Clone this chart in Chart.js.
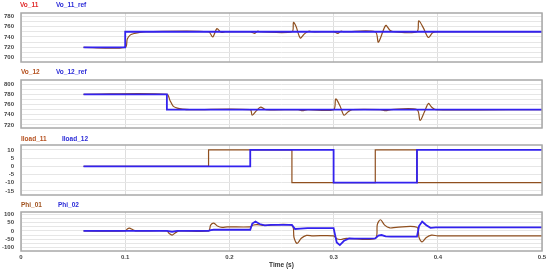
<!DOCTYPE html>
<html>
<head>
<meta charset="utf-8">
<script src="https://cdn.jsdelivr.net/npm/chart.js@4.4.0/dist/chart.umd.min.js"></script>
<style>
  html, body { margin: 0; padding: 0; background: #fff; }
  #wrap { position: relative; width: 550px; height: 271px; overflow: hidden; }
  canvas { position: absolute; left: 0; }
</style>
</head>
<body>
<div id="wrap">
  <canvas id="p1" width="550" height="66" style="top:0"></canvas>
  <canvas id="p2" width="550" height="66" style="top:66px"></canvas>
  <canvas id="p3" width="550" height="67" style="top:132px"></canvas>
  <canvas id="p4" width="550" height="72" style="top:199px"></canvas>
</div>
<script>
// --- data (time in s) ---
const T_VO11 = [0.06, 0.1, 0.102, 0.105, 0.109, 0.114, 0.12, 0.18, 0.184, 0.188, 0.192, 0.196, 0.22, 0.224, 0.227, 0.23, 0.26, 0.2615, 0.264, 0.268, 0.272, 0.276, 0.28, 0.30, 0.304, 0.307, 0.31, 0.34, 0.343, 0.35, 0.354, 0.358, 0.38, 0.3817, 0.386, 0.391, 0.395, 0.4, 0.5];
const VO11   = [720, 720, 736, 744, 747, 749, 750, 750, 740, 756, 749, 750, 750, 747, 751, 750, 750, 768, 760, 738, 746, 751, 750, 750, 747, 751, 750, 750, 730, 762, 753, 750, 750, 771, 758, 739, 748, 750, 750];
const T_VO11_REF = [0.06, 0.1, 0.1, 0.5];
const VO11_REF   = [720, 720, 750, 750];

const T_VO12 = [0.06, 0.14, 0.143, 0.146, 0.15, 0.155, 0.162, 0.22, 0.2218, 0.226, 0.23, 0.235, 0.266, 0.27, 0.275, 0.30, 0.302, 0.306, 0.31, 0.314, 0.318, 0.345, 0.35, 0.355, 0.38, 0.383, 0.387, 0.391, 0.394, 0.398, 0.5];
const VO12   = [780, 780, 768, 757, 753, 751, 750, 750, 739, 748, 755, 750, 750, 748, 750, 750, 771, 758, 739, 746, 750, 750, 748, 750, 750, 729, 745, 762, 755, 750, 750];
const T_VO12_REF = [0.06, 0.14, 0.14, 0.5];
const VO12_REF   = [780, 780, 750, 750];

const T_ILOAD11 = [0.06, 0.18, 0.18, 0.26, 0.26, 0.34, 0.34, 0.38, 0.38, 0.5];
const ILOAD11   = [0, 0, 10, 10, -10, -10, 10, 10, -10, -10];
const T_ILOAD12 = [0.06, 0.22, 0.22, 0.30, 0.30, 0.38, 0.38, 0.5];
const ILOAD12   = [0, 0, 10, 10, -10, -10, 10, 10];

const T_PHI01 = [0.06, 0.1, 0.102, 0.104, 0.107, 0.11, 0.14, 0.142, 0.145, 0.148, 0.152, 0.18, 0.182, 0.185, 0.189, 0.193, 0.198, 0.22, 0.223, 0.227, 0.232, 0.26, 0.262, 0.265, 0.269, 0.274, 0.28, 0.30, 0.303, 0.307, 0.312, 0.34, 0.342, 0.345, 0.349, 0.354, 0.36, 0.38, 0.382, 0.385, 0.389, 0.394, 0.4, 0.5];
const PHI01   = [0, 0, 12, 17, 8, 0, 0, -14, -25, -12, 0, 0, 35, 47, 28, 22, 25, 25, 36, 38, 34, 34, -40, -76, -45, -27, -30, -30, -48, -52, -45, -45, 40, 68, 35, 18, 22, 22, -40, -66, -40, -26, -30, -30];
const T_PHI02 = [0.06, 0.14, 0.145, 0.15, 0.18, 0.182, 0.185, 0.22, 0.222, 0.225, 0.229, 0.234, 0.24, 0.26, 0.263, 0.268, 0.275, 0.30, 0.303, 0.306, 0.31, 0.315, 0.32, 0.34, 0.343, 0.346, 0.35, 0.355, 0.38, 0.382, 0.385, 0.389, 0.393, 0.398, 0.5];
const PHI02   = [0, 0, -5, 0, 0, 5, 7, 7, 45, 57, 42, 34, 37, 37, 12, 14, 17, 17, -70, -86, -60, -45, -47, -45, -28, -25, -33, -35, -35, 30, 57, 35, 19, 22, 22];

// y tick values (labelled ones listed separately)
const Y1_TICKS = [700, 710, 720, 730, 740, 750, 760, 770, 780];
const Y1_LABELS = [700, 720, 740, 760, 780];
const Y2_TICKS = [720, 730, 740, 750, 760, 770, 780, 790, 800];
const Y2_LABELS = [720, 740, 760, 780, 800];
const Y3_TICKS = [-15, -10, -5, 0, 5, 10];
const Y3_LABELS = [-15, -10, -5, 0, 5, 10];
const Y4_TICKS = [-100, -75, -50, -25, 0, 25, 50, 75, 100];
const Y4_LABELS = [-100, -50, 0, 50, 100];

const BROWN = '#8f4f1f';
const BLUE = '#3322ee';
const FONT = 'Liberation Sans';

const zip = (t, v) => t.map((x, i) => ({ x, y: v[i] }));

// grey box round every plot area
const frame = {
  id: 'frame',
  afterDatasetsDraw(chart) {
    const { ctx, chartArea: { left, top, right, bottom } } = chart;
    ctx.save();
    ctx.strokeStyle = '#a8a8a8';
    ctx.lineWidth = 1.5;
    ctx.strokeRect(left, top, right - left, bottom - top);
    ctx.restore();
  }
};

// coloured series names above each panel
const seriesLabels = {
  id: 'seriesLabels',
  afterDraw(chart, args, opts) {
    const c = chart.ctx;
    c.save();
    c.font = `bold 6.5px "${FONT}"`;
    c.textBaseline = 'middle';
    chart.data.datasets.forEach((ds, i) => {
      c.fillStyle = opts.colors[i];
      c.fillText(ds.label, opts.xs[i], opts.y);
    });
    c.restore();
  }
};

function makePanel(id, p) {
  new Chart(document.getElementById(id), {
    type: 'line',
    data: {
      datasets: [
        { label: p.names[0], data: p.brown, borderColor: BROWN, borderWidth: 1.2, tension: p.tension, order: 1 },
        { label: p.names[1], data: p.blue, borderColor: BLUE, borderWidth: 1.8, tension: 0, order: 0 },
      ]
    },
    options: {
      responsive: false,
      animation: false,
      devicePixelRatio: 1,
      elements: { point: { radius: 0 } },
      layout: { padding: { top: p.padTop, right: 8, bottom: p.padBottom, left: 0 } },
      plugins: {
        legend: { display: false },
        tooltip: { enabled: false },
        seriesLabels: { xs: p.labelX, y: p.labelY, colors: p.labelColors },
      },
      scales: {
        x: {
          type: 'linear',
          min: 0,
          max: 0.5,
          afterFit: s => { if (p.showX) s.height = 20; },
          ticks: {
            display: p.showX,
            stepSize: 0.1,
            padding: 2.5,
            color: '#444',
            font: { size: 6, weight: 'bold', family: FONT },
            callback: v => +v.toFixed(1),
          },
          grid: { color: '#dedede', drawTicks: false },
          border: { display: false },
          title: {
            display: p.showX,
            text: 'Time (s)',
            color: '#333',
            padding: { top: 0, bottom: 2 },
            font: { size: 6.5, weight: 'bold', family: FONT },
          },
        },
        y: {
          min: p.min,
          max: p.max,
          afterBuildTicks: s => { s.ticks = p.ticks.map(v => ({ value: v })); },
          afterFit: s => { s.width = 21; s.paddingTop = 0; s.paddingBottom = 0; },
          ticks: {
            autoSkip: false,
            padding: 7,
            color: '#444',
            font: { size: 6, weight: 'bold', family: FONT },
            callback: v => (p.labels.includes(v) ? v : ''),
          },
          grid: { color: '#e6e6e6', drawTicks: false },
          border: { display: false },
        }
      }
    },
    plugins: [frame, seriesLabels]
  });
}

makePanel('p1', {
  names: ['Vo_11', 'Vo_11_ref'],
  brown: zip(T_VO11, VO11), blue: zip(T_VO11_REF, VO11_REF), tension: 0.3,
  min: 692, max: 786, ticks: Y1_TICKS, labels: Y1_LABELS,
  padTop: 13, padBottom: 4, showX: false,
  labelX: [20, 56], labelY: 5, labelColors: ['#e02a2a', '#2a2ad8'],
});
makePanel('p2', {
  names: ['Vo_12', 'Vo_12_ref'],
  brown: zip(T_VO12, VO12), blue: zip(T_VO12_REF, VO12_REF), tension: 0.3,
  min: 714, max: 808, ticks: Y2_TICKS, labels: Y2_LABELS,
  padTop: 14, padBottom: 4, showX: false,
  labelX: [21, 56], labelY: 6, labelColors: ['#b5501e', '#2a2ad8'],
});
makePanel('p3', {
  names: ['Iload_11', 'Iload_12'],
  brown: zip(T_ILOAD11, ILOAD11), blue: zip(T_ILOAD12, ILOAD12), tension: 0,
  min: -17.5, max: 13, ticks: Y3_TICKS, labels: Y3_LABELS,
  padTop: 13, padBottom: 4, showX: false,
  labelX: [21, 62], labelY: 7, labelColors: ['#b5501e', '#2a2ad8'],
});
makePanel('p4', {
  names: ['Phi_01', 'Phi_02'],
  brown: zip(T_PHI01, PHI01), blue: zip(T_PHI02, PHI02), tension: 0.3,
  min: -122, max: 115, ticks: Y4_TICKS, labels: Y4_LABELS,
  padTop: 13, padBottom: 0, showX: true,
  labelX: [21, 58], labelY: 6, labelColors: ['#a0521e', '#2a2ad8'],
});
</script>
</body>
</html>
